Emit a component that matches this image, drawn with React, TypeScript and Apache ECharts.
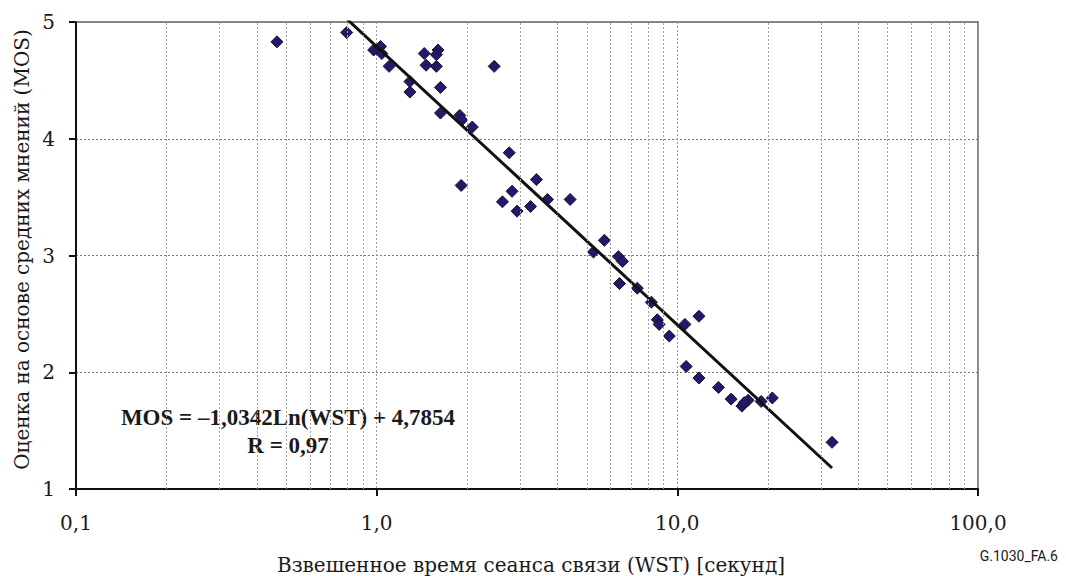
import React, { useEffect, useRef } from "react";
import * as echarts from "echarts";

const wst = [
  0.466, 0.795, 0.977, 1.03, 1.04, 1.1, 1.44, 1.6, 1.58, 1.46, 1.58, 1.29, 1.29, 1.63, 1.63,
  1.89, 1.92, 2.08, 2.46, 1.91, 2.76, 2.82, 2.62, 2.93, 3.25, 3.4, 3.7, 4.4, 5.72, 5.26,
  6.37, 6.57, 6.42, 7.36, 8.2, 8.58, 8.7, 9.4, 10.6, 11.8, 10.7, 11.8, 13.7, 15.1, 16.4,
  17.2, 16.7, 19.0, 20.7, 32.7,
];
const mos = [
  4.83, 4.91, 4.76, 4.79, 4.73, 4.62, 4.73, 4.76, 4.72, 4.63, 4.62, 4.49, 4.40, 4.44, 4.22,
  4.20, 4.16, 4.10, 4.62, 3.60, 3.88, 3.55, 3.46, 3.38, 3.42, 3.65, 3.48, 3.48, 3.13, 3.03,
  2.99, 2.95, 2.76, 2.72, 2.60, 2.45, 2.41, 2.31, 2.41, 2.48, 2.05, 1.95, 1.87, 1.77, 1.71,
  1.76, 1.74, 1.75, 1.78, 1.40,
];
const trendX = [0.8, 32.7];
const trendY = [5.02, 1.18];
const minorX = [0.2, 0.3, 0.4, 0.5, 0.6, 0.7, 0.8, 0.9, 2, 3, 4, 5, 6, 7, 8, 9, 20, 30, 40, 50, 60, 70, 80, 90];
const xTicks = [0.1, 1, 10, 100];
const xTickLabels = ["0,1", "1,0", "10,0", "100,0"];
const yTicks = [1, 2, 3, 4, 5];
const yTickLabels = ["1", "2", "3", "4", "5"];

const equationText = "MOS = –1,0342Ln(WST) + 4,7854";
const rText = "R = 0,97";
const xTitle = "Взвешенное время сеанса связи (WST) [секунд]";
const yTitle = "Оценка на основе средних мнений (MOS)";
const figId = "G.1030_FA.6";

const serifFont = '20px "DejaVu Serif", serif';
const boldFont = 'bold 23px "Liberation Serif", serif';
const idFont = "14px Roboto";

export default function App() {
  const ref = useRef<HTMLDivElement>(null);
  useEffect(() => {
    if (!ref.current) return;
    const chart = echarts.init(ref.current, null, { renderer: "svg" });
    const points = wst.map((x, i) => [x, mos[i]]);
    chart.setOption({
      animation: false,
      backgroundColor: "#ffffff",
      grid: {
        left: 76,
        right: 88,
        top: 22,
        bottom: 87,
        show: true,
        borderColor: "#8a8a8a",
        borderWidth: 2,
      },
      xAxis: {
        type: "log",
        logBase: 10,
        min: 0.1,
        max: 100,
        axisLine: { show: true, onZero: false, lineStyle: { color: "#111", width: 2 } },
        axisTick: { show: true, length: 7, lineStyle: { color: "#111", width: 2 } },
        axisLabel: { show: false },
        splitLine: { show: true, lineStyle: { type: [2, 2], color: "#9a9a9a", width: 1 } },
        minorTick: { show: false },
        minorSplitLine: { show: false },
      },
      yAxis: {
        type: "value",
        min: 1,
        max: 5,
        interval: 1,
        axisLine: { show: true, onZero: false, lineStyle: { color: "#111", width: 2 } },
        axisTick: { show: true, length: 7, lineStyle: { color: "#111", width: 2 } },
        axisLabel: { show: false },
        splitLine: { show: true, lineStyle: { type: [2, 2], color: "#7a7a7a", width: 1 } },
      },
      series: [
        {
          type: "line",
          data: [],
          silent: true,
          markLine: {
            silent: true,
            symbol: ["none", "none"],
            label: { show: false },
            lineStyle: { type: [2, 2], color: "#a0a0a0", width: 1 },
            data: minorX.map((x) => ({ xAxis: x })),
          },
        },
        {
          type: "scatter",
          data: points,
          symbol: "diamond",
          symbolSize: 12,
          itemStyle: { color: "#22186c", borderColor: "#15152a", borderWidth: 1, opacity: 1 },
          z: 3,
        },
        {
          type: "line",
          data: trendX.map((x, i) => [x, trendY[i]]),
          symbol: "none",
          lineStyle: { color: "#111", width: 3 },
          z: 4,
        },
      ],
    });

    const toPx = (x: number, y: number) =>
      chart.convertToPixel({ gridIndex: 0 }, [x, y]) as number[];
    const [gx0, gy0] = toPx(0.1, 1);
    const [gx1, gy1] = toPx(100, 5);
    const txt = (
      text: string,
      x: number,
      y: number,
      font: string,
      align: string,
      extra: Record<string, unknown> = {}
    ) => ({
      type: "text",
      x,
      y,
      silent: true,
      ...extra,
      style: {
        text,
        font,
        fill: "#1a1a1a",
        align,
        verticalAlign: "middle",
        textAlign: align,
        textVerticalAlign: "middle",
      },
    });
    const graphics: any[] = [];
    xTicks.forEach((v, i) => {
      const [px] = toPx(v, 1);
      graphics.push(txt(xTickLabels[i], px, gy0 + 34, serifFont, "center"));
    });
    yTicks.forEach((v, i) => {
      const [, py] = toPx(0.1, v);
      graphics.push(txt(yTickLabels[i], gx0 - 21, py, serifFont, "right"));
    });
    graphics.push(txt(xTitle, (gx0 + gx1) / 2 + 4, gy0 + 76, serifFont, "center"));
    graphics.push(
      txt(yTitle, gx0 - 54, (gy0 + gy1) / 2 - 6, serifFont, "center", { rotation: Math.PI / 2 })
    );
    graphics.push(txt(equationText, 288, 417, boldFont, "center"));
    graphics.push(txt(rText, 288, 445, boldFont, "center"));
    graphics.push(txt(figId, 1058, 556, idFont, "right"));
    chart.setOption({ graphic: graphics });

    return () => chart.dispose();
  }, []);
  return <div ref={ref} style={{ width: 1066, height: 576, position: "absolute", left: 0, top: 0 }} />;
}
